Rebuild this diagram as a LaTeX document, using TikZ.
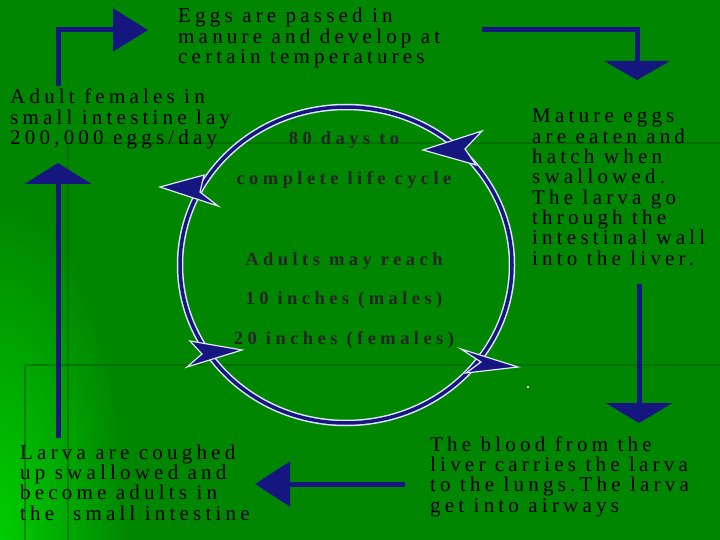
\documentclass[tikz,border=0pt]{standalone}
\usepackage{fontspec}
\setmainfont{Liberation Serif}
\newfontfamily\stagefont{Liberation Serif}[LetterSpace=20]
\newfontfamily\cyclefont{Liberation Serif}[LetterSpace=24, BoldFont={Liberation Serif Bold}]
\usetikzlibrary{arrows.meta, positioning}
\definecolor{slidegreen}{RGB}{0,134,0}
\definecolor{brightgreen}{RGB}{0,205,0}
\definecolor{seamgreen}{RGB}{0,100,0}
\definecolor{arrownavy}{RGB}{22,22,128}
\definecolor{ringedge}{RGB}{225,230,245}

\begin{document}
\begin{tikzpicture}[x=1pt, y=-1pt,
    stagetext/.style={anchor=base west, align=left, inner sep=0pt,
        font=\stagefont\fontsize{21}{20.3}\selectfont},
    cycletext/.style={anchor=base, align=center, inner sep=0pt, text=black!85,
        font=\cyclefont\bfseries\fontsize{18.5}{40}\selectfont},
    flow/.style={arrownavy, line width=5pt, line join=miter},
    seam/.style={seamgreen, line width=1.5pt, opacity=0.6},
    ringline/.style={draw=ringedge, double=arrownavy, line width=1.5pt, double distance=3.5pt},
    ringhead/.style={fill=arrownavy, draw=ringedge, line width=1.2pt, line join=miter}
]
\useasboundingbox (0,0) rectangle (720,540);
% background of the slide
\fill[slidegreen] (0,0) rectangle (720,540);
\begin{scope}
\clip (0,0) rectangle (720,540);
\shade[inner color=brightgreen, outer color=slidegreen] (0,540) ellipse [x radius=130, y radius=340];
\end{scope}
\draw[seam] (68,143) -- (720,143);
\draw[seam] (68,143) -- (68,540);
\draw[seam] (25,365) -- (720,365);
\draw[seam] (25,365) -- (25,540);

% stages of the life cycle (placed at the baseline of their last line)
\node[stagetext] (eggs) at (178,63.6) {Eggs are passed in\\manure and develop at\\certain temperatures};
\node[stagetext] (adult) at (10,144.6) {Adult females in\\small intestine lay\\200,000 eggs/day};
\node[stagetext] (mature) at (532,265) {Mature eggs\\are eaten and\\hatch when\\swallowed.\\The larva go\\through the\\intestinal wall\\into the liver.};
\node[stagetext] (blood) at (430,512) {The blood from the\\liver carries the larva\\to the lungs.The larva\\get into airways};
\node[stagetext] (larva) at (20,520) {Larva are coughed\\up swallowed and\\become adults in\\the~ small intestine};

% outer arrows
\coordinate (adultup) at (58,86);
\coordinate (eggsin) at (148,30);
\coordinate (eggsout) at (482,30);
\coordinate (maturein) at (637,80);
\coordinate (matureout) at (639,284);
\coordinate (bloodin) at (639,423);
\coordinate (bloodout) at (405,484);
\coordinate (larvain) at (255,484);
\coordinate (larvaout) at (58,438);
\coordinate (adultin) at (58,163);
\draw[flow, -{Triangle[length=35pt,width=42pt]}] (adultup) |- (eggsin);
\draw[flow, -{Triangle[length=19pt,width=65pt]}] (eggsout) -| (maturein);
\draw[flow, -{Triangle[length=20pt,width=66pt]}] (matureout) -- (bloodin);
\draw[flow, -{Triangle[length=35pt,width=44pt]}] (bloodout) -- (larvain);
\draw[flow, -{Triangle[length=21pt,width=66pt]}] (larvaout) -- (adultin);

% inner cycle
\draw[ringline] (346,265) ellipse [x radius=166, y radius=158];
\foreach \tx/\ty/\ax/\ay/\nx/\ny/\bx/\by in {
    160/187/204/175/200/192/218/206,
    423/150/482/131/465/149/476/165,
    242/350/190/341/202/354/187/367,
    518/367/461/349/481/362/466/373}
    \filldraw[ringhead] (\tx,\ty) -- (\ax,\ay) -- (\nx,\ny) -- (\bx,\by) -- cycle;
\fill[white] (528,387) circle (1.2pt);

\node[cycletext] (days) at (344,185) {80 days to\\complete life cycle};
\node[cycletext, font=\cyclefont\bfseries\fontsize{18.5}{39.5}\selectfont] (reach) at (344,344) {Adults may reach\\10 inches (males)\\20 inches (females)};
\end{tikzpicture}
\end{document}
